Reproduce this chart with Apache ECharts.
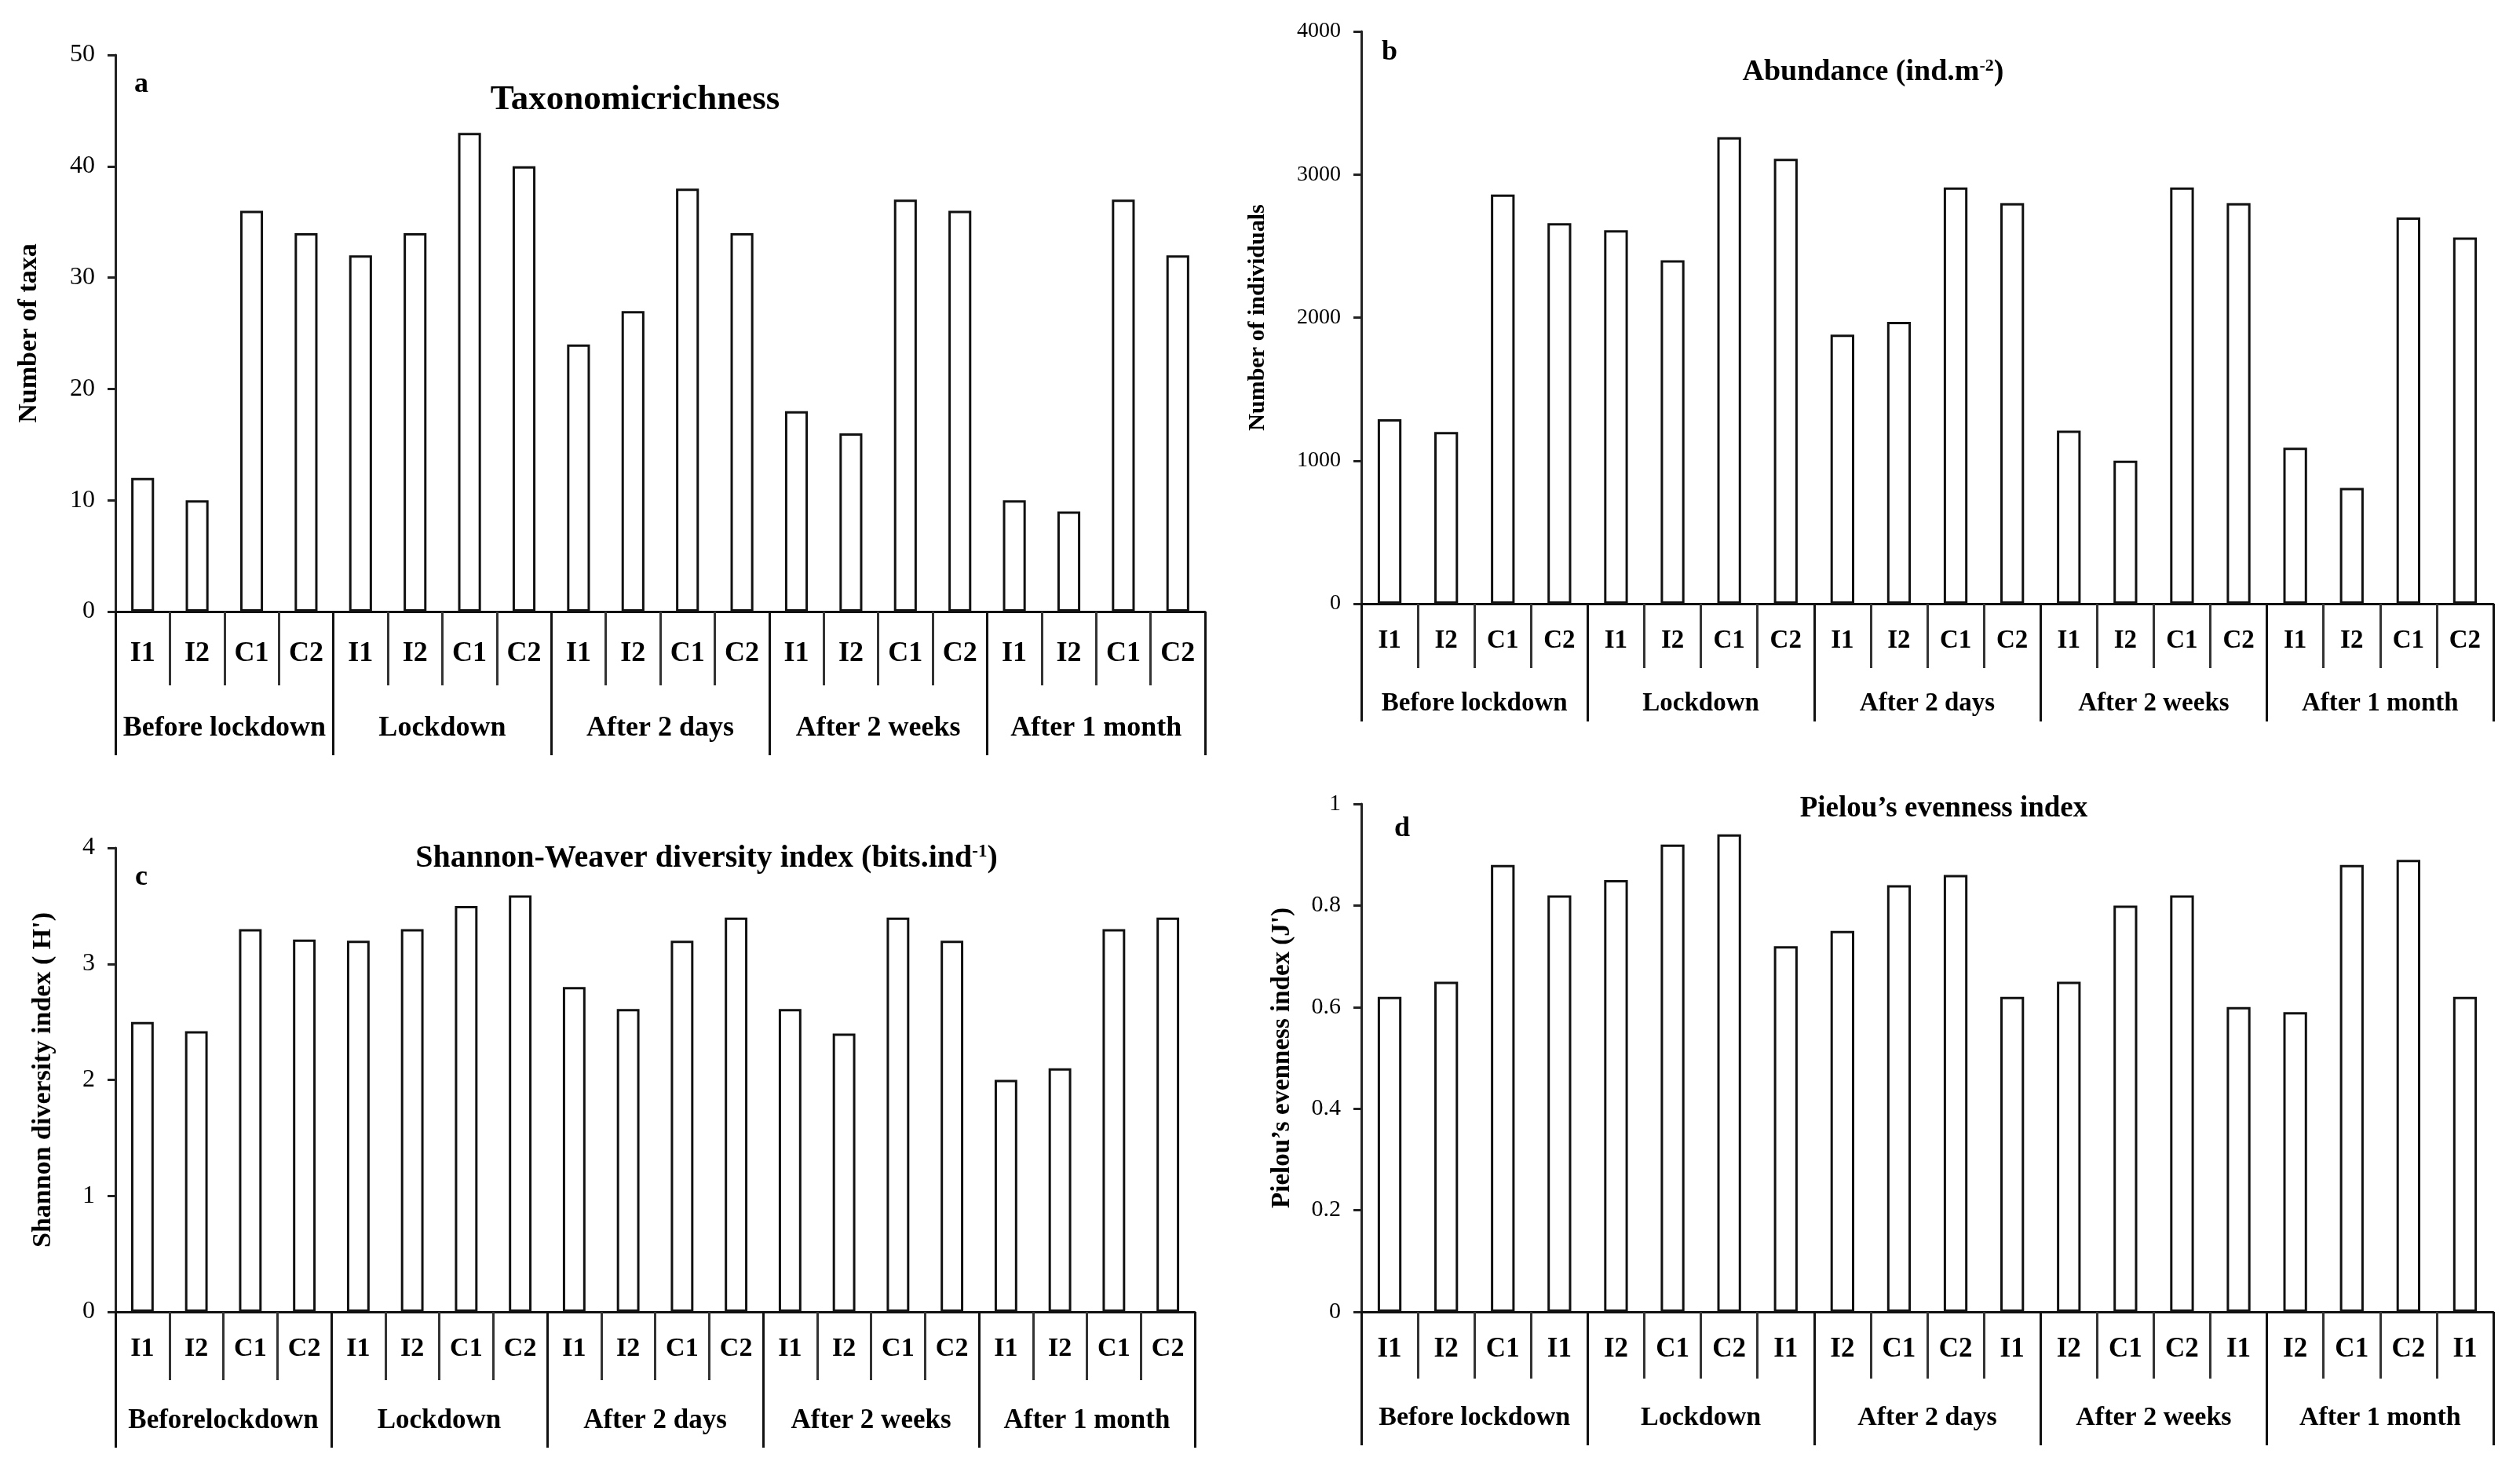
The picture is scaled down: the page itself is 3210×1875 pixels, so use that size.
<!DOCTYPE html>
<html><head><meta charset="utf-8">
<script src="https://cdn.jsdelivr.net/npm/echarts@6/dist/echarts.min.js"></script>
<style>html,body{margin:0;padding:0;background:#fff}#c{width:3210px;height:1875px}</style>
</head><body><div id="c"></div>
<script>
// ---------- data ----------
const periods = ['Before lockdown', 'Lockdown', 'After 2 days', 'After 2 weeks', 'After 1 month'];
const periodsC = ['Beforelockdown', 'Lockdown', 'After 2 days', 'After 2 weeks', 'After 1 month'];
const sitesABC = ['I1','I2','C1','C2', 'I1','I2','C1','C2', 'I1','I2','C1','C2', 'I1','I2','C1','C2', 'I1','I2','C1','C2'];
const sitesD = ['I1','I2','C1','I1', 'I2','C1','C2','I1', 'I2','C1','C2','I1', 'I2','C1','C2','I1', 'I2','C1','C2','I1'];
const taxonomicRichness = [12, 10, 36, 34, 32, 34, 43, 40, 24, 27, 38, 34, 18, 16, 37, 36, 10, 9, 37, 32];
const abundance = [1290, 1200, 2860, 2660, 2610, 2400, 3260, 3110, 1880, 1970, 2910, 2800, 1210, 1000, 2910, 2800, 1090, 810, 2700, 2560];
const shannon = [2.5, 2.42, 3.3, 3.21, 3.2, 3.3, 3.5, 3.59, 2.8, 2.61, 3.2, 3.4, 2.61, 2.4, 3.4, 3.2, 2.0, 2.1, 3.3, 3.4];
const pielou = [0.62, 0.65, 0.88, 0.82, 0.85, 0.92, 0.94, 0.72, 0.75, 0.84, 0.86, 0.62, 0.65, 0.80, 0.82, 0.60, 0.59, 0.88, 0.89, 0.62];
const yTicksA = {min: 0, max: 50, interval: 10};
const yTicksB = {min: 0, max: 4000, interval: 1000};
const yTicksC = {min: 0, max: 4, interval: 1};
const yTicksD = {min: 0, max: 1, interval: 0.2};

const FONT = 'Liberation Serif';

const panels = [
  {grid:{left:147, top:70, width:1388, height:709}, data:taxonomicRichness, cats:sitesABC, groups:periods, y:yTicksA,
   name:'Number of taxa', nameGap:93, nameSize:34, tickSize:32, catSize:36, grpSize:36, catTick:94, grpTick:183, catMargin:36, grpMargin:131},
  {grid:{left:1734, top:40, width:1442, height:729}, data:abundance, cats:sitesABC, groups:periods, y:yTicksB,
   name:'Number of individuals', nameGap:117, nameSize:30, tickSize:28, catSize:33, grpSize:33, catTick:82, grpTick:150, catMargin:31, grpMargin:111},
  {grid:{left:147, top:1080, width:1375, height:591}, data:shannon, cats:sitesABC, groups:periodsC, y:yTicksC,
   name:'Shannon diversity index ( H\')', nameGap:75, nameSize:34, tickSize:32, catSize:34, grpSize:35, catTick:87, grpTick:173, catMargin:30, grpMargin:121},
  {grid:{left:1734, top:1024, width:1442, height:647}, data:pielou, cats:sitesD, groups:periods, y:yTicksD,
   name:'Pielou\u2019s evenness index (J\')', nameGap:84, nameSize:33, tickSize:30, catSize:35, grpSize:34, catTick:85, grpTick:170, catMargin:30, grpMargin:118}
];

const grid = [], xAxis = [], yAxis = [], series = [];
panels.forEach((p, i) => {
  grid.push(Object.assign({containLabel:false, outerBoundsMode:'none'}, p.grid));
  xAxis.push({
    type:'category', gridIndex:i, position:'bottom', data:p.cats,
    boundaryGap:true,
    axisLine:{show:true, lineStyle:{color:'#111', width:3}},
    axisTick:{show:true, interval:0, length:p.catTick, lineStyle:{color:'#333', width:3}},
    axisLabel:{interval:0, margin:p.catMargin, fontFamily:FONT, fontWeight:'bold', fontSize:p.catSize, color:'#000'},
    splitLine:{show:false}
  });
  xAxis.push({
    type:'category', gridIndex:i, position:'bottom', data:p.groups,
    boundaryGap:true,
    axisLine:{show:false},
    axisTick:{show:true, interval:0, length:p.grpTick, lineStyle:{color:'#111', width:3}},
    axisLabel:{interval:0, margin:p.grpMargin, fontFamily:FONT, fontWeight:'bold', fontSize:p.grpSize, color:'#000'},
    splitLine:{show:false}
  });
  yAxis.push({
    type:'value', gridIndex:i, min:p.y.min, max:p.y.max, interval:p.y.interval,
    name:p.name, nameLocation:'middle', nameGap:p.nameGap,
    nameTextStyle:{fontFamily:FONT, fontWeight:'bold', fontSize:p.nameSize, color:'#000'},
    axisLine:{show:true, lineStyle:{color:'#222', width:3}},
    axisTick:{show:true, inside:false, length:10, lineStyle:{color:'#222', width:3}},
    axisLabel:{margin:26, fontFamily:FONT, fontSize:p.tickSize, color:'#000',
               formatter: v => String(Math.round(v * 1000) / 1000)},
    splitLine:{show:false}
  });
  series.push({
    type:'bar', xAxisIndex:i*2, yAxisIndex:i, data:p.data, barWidth:'42%',
    itemStyle:{color:'#fff', borderColor:'#111', borderWidth:3},
    silent:true, animation:false
  });
});

const titleText = (x, y, text, size, rich) => ({
  type:'text', x:x, y:y, z:100,
  style:{text:text, fontFamily:FONT, fontWeight:'bold', fontSize:size, fill:'#000',
         textAlign:'center', textVerticalAlign:'middle', rich:rich}
});

const graphic = [
  titleText(809, 127, 'Taxonomicrichness', 45),
  titleText(2386, 92, 'Abundance (ind.m{sup|-2})', 38,
    {sup:{fontFamily:FONT, fontWeight:'bold', fontSize:22, verticalAlign:'top', fill:'#000'}}),
  titleText(900, 1094, 'Shannon-Weaver diversity index (bits.ind{sup|-1})', 40,
    {sup:{fontFamily:FONT, fontWeight:'bold', fontSize:23, verticalAlign:'top', fill:'#000'}}),
  titleText(2476, 1030, 'Pielou\u2019s evenness index', 37),
  titleText(180, 108, 'a', 36),
  titleText(1770, 67, 'b', 36),
  titleText(180, 1118, 'c', 36),
  titleText(1786, 1056, 'd', 36)
];

const chart = echarts.init(document.getElementById('c'), null, {renderer:'canvas'});
chart.setOption({
  backgroundColor:'#fff',
  animation:false,
  grid:grid, xAxis:xAxis, yAxis:yAxis, series:series, graphic:graphic
});
</script></body></html>
